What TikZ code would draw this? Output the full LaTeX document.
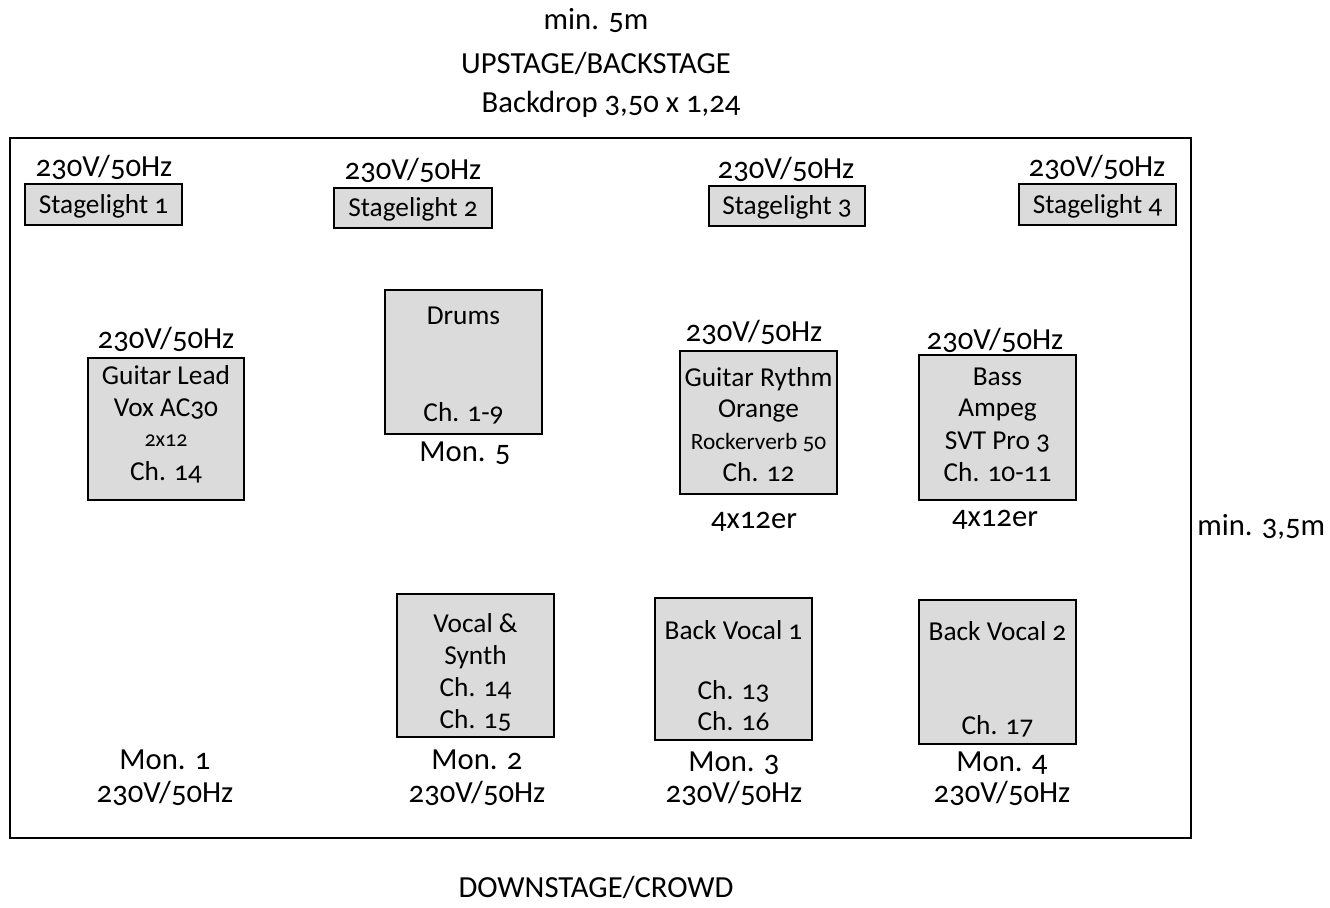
\documentclass[tikz,border=0pt]{standalone}
\usepackage{fontspec}
\setmainfont{Carlito}[Numbers=OldStyle]
\begin{document}
\begin{tikzpicture}[x=0.75pt,y=-0.75pt,
  lbl/.style={inner sep=0pt,anchor=base,yshift=-9.5*0.75pt,font=\fontsize{23}{26}\selectfont},
  txt/.style={inner sep=0pt,anchor=base,yshift=-8.5*0.75pt,font=\fontsize{20.5}{24}\selectfont},
  small/.style={inner sep=0pt,anchor=base,yshift=-7.5*0.75pt,font=\fontsize{17.5}{20}\selectfont},
  tiny/.style={inner sep=0pt,anchor=base,yshift=-6.5*0.75pt,font=\fontsize{16.5}{18}\selectfont},
  box/.style={draw=black,line width=1.6pt,fill=black!14},
  frame/.style={draw=black,line width=1.6pt}]
\useasboundingbox (0,0) rectangle (1330,907);
\draw[frame] (10,138) rectangle (1191,838);
% header
\node[lbl] (min5) at (596,20) {min. 5m};
\node[lbl] (up) at (596,64) {UPSTAGE/BACKSTAGE};
\node[lbl] (backdrop) at (611,103) {Backdrop 3,50 x 1,24};
\node[lbl] (down) at (596,888) {DOWNSTAGE/CROWD};
\node[lbl,anchor=base west] (min35) at (1197,526) {min. 3,5m};
% stagelights
\draw[box] (25,184) rectangle (182,225);
\node[txt] (sl1) at (103.5,205) {Stagelight 1};
\node[lbl] (sl1p) at (104,167) {230V/50Hz};
\draw[box] (334,188) rectangle (492,228);
\node[txt] (sl2) at (413,208) {Stagelight 2};
\node[lbl] (sl2p) at (413,170) {230V/50Hz};
\draw[box] (709,186) rectangle (865,226);
\node[txt] (sl3) at (787,206) {Stagelight 3};
\node[lbl] (sl3p) at (786,169) {230V/50Hz};
\draw[box] (1019,184) rectangle (1176,225);
\node[txt] (sl4) at (1097.5,205) {Stagelight 4};
\node[lbl] (sl4p) at (1097,167) {230V/50Hz};
% guitar lead
\draw[box] (88,358) rectangle (244,500);
\node[lbl] (glp) at (166,339) {230V/50Hz};
\node[txt] (gl1) at (166,376) {Guitar Lead};
\node[txt] (gl2) at (166,408) {Vox AC30};
\node[tiny] (gl3) at (166,440) {2x12};
\node[txt] (gl4) at (166,472) {Ch. 14};
% drums
\draw[box] (385,290) rectangle (542,434);
\node[txt] (dr1) at (463.5,316) {Drums};
\node[txt] (dr2) at (463.5,413) {Ch. 1-9};
\node[lbl] (mon5) at (465,452) {Mon. 5};
% guitar rythm
\draw[box] (680,351) rectangle (837,494);
\node[lbl] (grp) at (754,332) {230V/50Hz};
\node[txt] (gr1) at (758.5,378) {Guitar Rythm};
\node[txt] (gr2) at (758.5,409) {Orange};
\node[small] (gr3) at (758.5,442) {Rockerverb 50};
\node[txt] (gr4) at (758.5,473) {Ch. 12};
\node[lbl] (gre) at (754,519) {4x12er};
% bass
\draw[box] (919,355) rectangle (1076,500);
\node[lbl] (bap) at (995,340) {230V/50Hz};
\node[txt] (ba1) at (997.5,377) {Bass};
\node[txt] (ba2) at (997.5,408) {Ampeg};
\node[txt] (ba3) at (997.5,441) {SVT Pro 3};
\node[txt] (ba4) at (997.5,473) {Ch. 10-11};
\node[lbl] (bae) at (995,517) {4x12er};
% vocal & synth
\draw[box] (397,594) rectangle (554,737);
\node[txt] (vs1) at (475.5,624) {Vocal \&};
\node[txt] (vs2) at (475.5,656) {Synth};
\node[txt] (vs3) at (475.5,688) {Ch. 14};
\node[txt] (vs4) at (475.5,720) {Ch. 15};
\node[lbl] (mon2) at (477,760) {Mon. 2};
\node[lbl] (mon2p) at (477,793) {230V/50Hz};
% back vocal 1
\draw[box] (655,598) rectangle (812,740);
\node[txt] (bv11) at (733.5,631) {Back Vocal 1};
\node[txt] (bv12) at (733.5,691) {Ch. 13};
\node[txt] (bv13) at (733.5,722) {Ch. 16};
\node[lbl] (mon3) at (734,762) {Mon. 3};
\node[lbl] (mon3p) at (734,793) {230V/50Hz};
% back vocal 2
\draw[box] (919,600) rectangle (1076,744);
\node[txt] (bv21) at (997.5,632) {Back Vocal 2};
\node[txt] (bv22) at (997.5,726) {Ch. 17};
\node[lbl] (mon4) at (1002,762) {Mon. 4};
\node[lbl] (mon4p) at (1002,793) {230V/50Hz};
% mon 1
\node[lbl] (mon1) at (165,760) {Mon. 1};
\node[lbl] (mon1p) at (165,793) {230V/50Hz};
\end{tikzpicture}
\end{document}
